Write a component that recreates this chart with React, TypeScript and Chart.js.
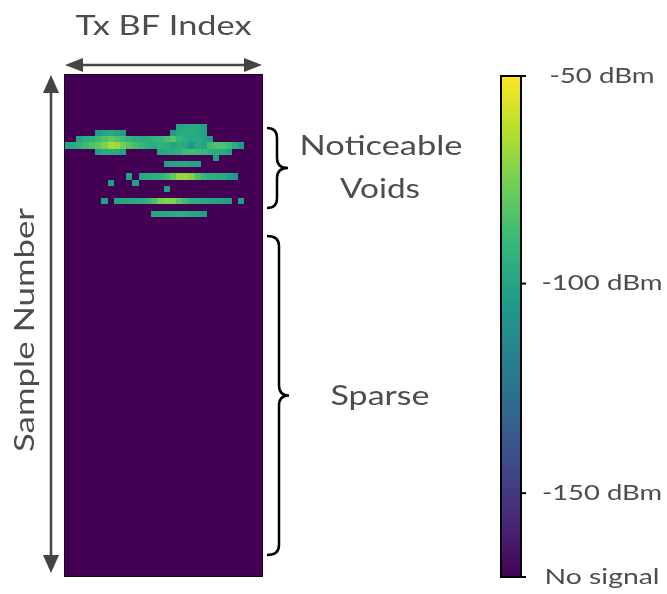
import React, { useEffect, useRef } from "react";
import { Chart, registerables } from "chart.js";

Chart.register(...registerables);

// ---- Data ----
const N_COLS = 32; // Tx BF index
const N_ROWS = 81; // sample number
const DBM_MIN = -170; // "No signal"
const DBM_MAX = -50;

const colorbarTicks = [-50, -100, -150, -170];
const colorbarLabels = ["-50 dBm", "-100 dBm", "-150 dBm", "No signal"];

// Each segment: a run of non-empty cells in one row (row index, first column, dBm values)
const segRow = [8, 9, 9, 10, 11, 12, 12, 13, 14, 16, 16, 17, 17, 18, 20, 20, 20, 22];
const segCol = [18, 5, 17, 2, 0, 5, 15, 24, 16, 10, 12, 7, 11, 16, 6, 8, 28, 14];
const segDbm: number[][] = [
  [-100, -98, -97, -99, -102],
  [-105, -100, -98, -100, -104],
  [-105, -98, -96, -96, -98, -100],
  [-100, -95, -92, -88, -84, -80, -84, -88, -92, -95, -96, -95, -92, -90, -86, -82, -90, -95, -98, -97, -100, -105],
  [-100, -97, -93, -88, -84, -80, -74, -66, -68, -76, -82, -86, -90, -94, -96, -92, -95, -100, -96, -98, -106, -98, -100, -88, -84, -84, -88, -96, -104],
  [-102, -98, -96, -98, -102],
  [-100, -98, -96, -94, -88, -86, -88, -90, -94, -96, -98, -102],
  [-104],
  [-102, -100, -99, -98, -100, -102],
  [-102],
  [-98, -96, -94, -92, -88, -80, -70, -68, -74, -84, -90, -94, -96, -98, -102, -106],
  [-104],
  [-103],
  [-104],
  [-102],
  [-100, -99, -98, -97, -95, -92, -86, -76, -72, -74, -82, -88, -94, -96, -98, -99, -100, -101, -102],
  [-104],
  [-100, -99, -98, -96, -95, -97, -99, -100, -102],
];

// ---- Colormap (viridis) ----
const VIRIDIS = ["#440154", "#482878", "#3e4989", "#31688e", "#26828e", "#1f9e89", "#35b779", "#6ece58", "#b5de2b", "#fde725"];
const hexRgb = (h: string) => [parseInt(h.slice(1, 3), 16), parseInt(h.slice(3, 5), 16), parseInt(h.slice(5, 7), 16)];
const VIR_RGB = VIRIDIS.map(hexRgb);
function viridis(t: number) {
  const tt = Math.max(0, Math.min(1, t)) * (VIR_RGB.length - 1);
  const i = Math.min(VIR_RGB.length - 2, Math.floor(tt));
  const f = tt - i;
  const a = VIR_RGB[i], b = VIR_RGB[i + 1];
  const c = a.map((v, k) => Math.round(v + (b[k] - v) * f));
  return `rgb(${c[0]},${c[1]},${c[2]})`;
}
const dbmColor = (v: number) => viridis((v - DBM_MIN) / (DBM_MAX - DBM_MIN));

const TEXT_COLOR = "#4d4d4d";
const FONT = "Lato, 'Noto Sans', sans-serif";

function buildCells() {
  const pts: { x: number; y: number; v: number }[] = [];
  segRow.forEach((r, s) => {
    segDbm[s].forEach((v, k) => pts.push({ x: segCol[s] + k + 0.5, y: r + 0.5, v }));
  });
  return pts;
}

const heatmapPlugin = {
  id: "heatmapCells",
  beforeDatasetsDraw(chart: any) {
    const { ctx, chartArea } = chart;
    const xs = chart.scales.x;
    const ys = chart.scales.y;
    ctx.save();
    ctx.fillStyle = dbmColor(DBM_MIN);
    ctx.fillRect(chartArea.left, chartArea.top, chartArea.right - chartArea.left, chartArea.bottom - chartArea.top);
    const pts = chart.data.datasets[0].data as { x: number; y: number; v: number }[];
    for (const p of pts) {
      const x0 = Math.round(xs.getPixelForValue(p.x - 0.5));
      const x1 = Math.round(xs.getPixelForValue(p.x + 0.5));
      const y0 = Math.round(ys.getPixelForValue(p.y - 0.5));
      const y1 = Math.round(ys.getPixelForValue(p.y + 0.5));
      ctx.fillStyle = dbmColor(p.v);
      ctx.fillRect(x0, y0, x1 - x0, y1 - y0);
    }
    ctx.strokeStyle = "rgba(20,0,30,0.9)";
    ctx.lineWidth = 1;
    ctx.strokeRect(chartArea.left + 0.5, chartArea.top + 0.5, chartArea.right - chartArea.left - 1, chartArea.bottom - chartArea.top - 1);
    ctx.restore();
  },
};

function arrowHead(ctx: CanvasRenderingContext2D, tipX: number, tipY: number, dx: number, dy: number, len: number, half: number) {
  const bx = tipX - dx * len, by = tipY - dy * len;
  const px = -dy, py = dx;
  ctx.beginPath();
  ctx.moveTo(tipX, tipY);
  ctx.lineTo(bx + px * half, by + py * half);
  ctx.lineTo(bx - px * half, by - py * half);
  ctx.closePath();
  ctx.fill();
}

function brace(ctx: CanvasRenderingContext2D, top: number, bottom: number, xl: number, xm: number, xt: number) {
  const mid = (top + bottom) / 2;
  const r = 10;
  ctx.beginPath();
  ctx.moveTo(xl, top);
  ctx.quadraticCurveTo(xm, top, xm, top + r);
  ctx.lineTo(xm, mid - r);
  ctx.quadraticCurveTo(xm, mid, xt, mid);
  ctx.quadraticCurveTo(xm, mid, xm, mid + r);
  ctx.lineTo(xm, bottom - r);
  ctx.quadraticCurveTo(xm, bottom, xl, bottom);
  ctx.stroke();
}

// Draw text centred at (cx, cy), stretched along its baseline to a given width
function fitText(ctx: CanvasRenderingContext2D, text: string, cx: number, cy: number, size: number, width: number, angle = 0) {
  ctx.save();
  ctx.font = `${size}px ${FONT}`;
  ctx.textAlign = "center";
  ctx.textBaseline = "middle";
  const w = ctx.measureText(text).width;
  ctx.translate(cx, cy);
  ctx.rotate(angle);
  ctx.scale(width / w, 1);
  ctx.fillText(text, 0, 0);
  ctx.restore();
}

const labelWidths = [105, 121, 120, 115];

const annotationPlugin = {
  id: "annotations",
  afterDraw(chart: any) {
    const { ctx, chartArea } = chart;
    const cb = chart.scales.cb;
    ctx.save();

    // ---- Colorbar ----
    const cbL = 501, cbR = 521;
    const cbTop = cb.getPixelForValue(DBM_MAX) + 2;
    const cbBot = cb.getPixelForValue(DBM_MIN);
    const grad = ctx.createLinearGradient(0, cbBot, 0, cbTop);
    for (let i = 0; i <= 40; i++) grad.addColorStop(i / 40, viridis(i / 40));
    ctx.fillStyle = grad;
    ctx.fillRect(cbL, cbTop, cbR - cbL, cbBot - cbTop);
    ctx.strokeStyle = "#000";
    ctx.lineWidth = 2;
    ctx.strokeRect(cbL, cbTop, cbR - cbL, cbBot - cbTop);
    ctx.fillStyle = TEXT_COLOR;
    colorbarTicks.forEach((v, i) => {
      const py = i === 0 ? cbTop : cb.getPixelForValue(v);
      ctx.beginPath();
      ctx.moveTo(cbR, py);
      ctx.lineTo(cbR + 5, py);
      ctx.stroke();
      fitText(ctx, colorbarLabels[i], 602, py, 21, labelWidths[i]);
    });

    // ---- Axis arrows ----
    ctx.strokeStyle = "#444";
    ctx.fillStyle = "#444";
    ctx.lineWidth = 2.5;
    const ay = 65;
    ctx.beginPath();
    ctx.moveTo(chartArea.left + 10, ay);
    ctx.lineTo(chartArea.right - 10, ay);
    ctx.stroke();
    arrowHead(ctx, chartArea.left + 1, ay, -1, 0, 18, 7);
    arrowHead(ctx, chartArea.right - 1, ay, 1, 0, 18, 7);

    const ax = 51;
    ctx.beginPath();
    ctx.moveTo(ax, chartArea.top + 10);
    ctx.lineTo(ax, chartArea.bottom - 10);
    ctx.stroke();
    arrowHead(ctx, ax, chartArea.top + 1, 0, -1, 18, 8);
    arrowHead(ctx, ax, chartArea.bottom - 4, 0, 1, 18, 8);

    // ---- Axis titles ----
    ctx.fillStyle = TEXT_COLOR;
    fitText(ctx, "Tx BF Index", (chartArea.left + chartArea.right) / 2, 27, 26, 176);
    fitText(ctx, "Sample Number", 26, 330, 26, 244, -Math.PI / 2);

    // ---- Braces & notes ----
    ctx.strokeStyle = "#000";
    ctx.lineWidth = 2.5;
    brace(ctx, 128, 208, 267, 277, 288);
    brace(ctx, 236, 555, 267, 279, 289);
    ctx.fillStyle = TEXT_COLOR;
    fitText(ctx, "Noticeable", 381, 147, 26, 163);
    fitText(ctx, "Voids", 380, 190, 26, 80);
    fitText(ctx, "Sparse", 380, 397, 26, 99);

    ctx.restore();
  },
};

export default function App() {
  const canvasRef = useRef<HTMLCanvasElement | null>(null);
  useEffect(() => {
    if (!canvasRef.current) return;
    const chart = new Chart(canvasRef.current, {
      type: "scatter",
      data: {
        datasets: [
          {
            label: "RSS",
            data: buildCells() as any,
            pointRadius: 0,
            pointHoverRadius: 0,
          },
        ],
      },
      options: {
        animation: false,
        responsive: false,
        devicePixelRatio: 1,
        layout: { padding: { left: 64, top: 74, right: 404, bottom: 17 } },
        plugins: { legend: { display: false }, tooltip: { enabled: false } },
        events: [],
        scales: {
          x: { type: "linear", min: 0, max: N_COLS, display: false },
          y: { type: "linear", min: 0, max: N_ROWS, reverse: true, display: false },
          cb: { type: "linear", axis: "y", min: DBM_MIN, max: DBM_MAX, display: false },
        },
      },
      plugins: [heatmapPlugin, annotationPlugin],
    });
    return () => chart.destroy();
  }, []);
  return (
    <div style={{ position: "absolute", left: 0, top: 0, width: 667, height: 594, background: "#fff" }}>
      <canvas ref={canvasRef} width={667} height={594} style={{ display: "block" }} />
    </div>
  );
}
